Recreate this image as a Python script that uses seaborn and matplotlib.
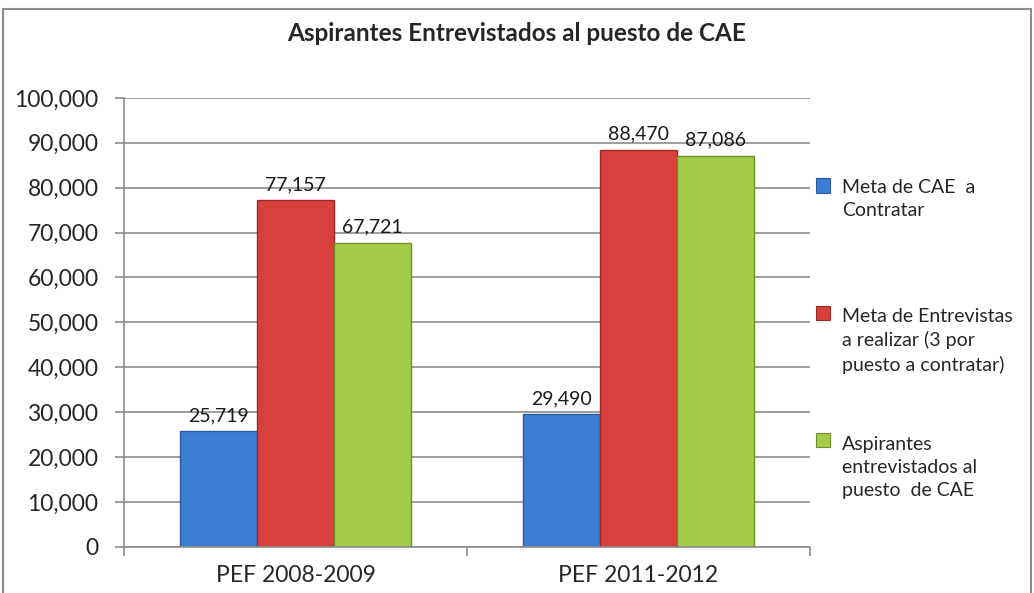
import pandas as pd
import matplotlib.pyplot as plt
import seaborn as sns
from matplotlib.patches import Rectangle
from matplotlib.legend_handler import HandlerPatch
from matplotlib.ticker import StrMethodFormatter

# Data
periodos = ["PEF 2008-2009", "PEF 2011-2012"]
series = ["Meta de CAE  a\nContratar",
          "Meta de Entrevistas\na realizar (3 por\npuesto a contratar)",
          "Aspirantes\nentrevistados al\npuesto  de CAE"]
meta_cae = [25719, 29490]
meta_entrevistas = [77157, 88470]
aspirantes = [67721, 87086]
colores = ["#3b7dd3", "#d8403e", "#a3cb45"]
bordes = ["#2a5a9e", "#9c2a28", "#6f8f2a"]

df = pd.DataFrame({
    "Periodo": periodos * 3,
    "Serie": [series[0]] * 2 + [series[1]] * 2 + [series[2]] * 2,
    "Valor": meta_cae + meta_entrevistas + aspirantes,
})

sns.set_style("white")
plt.rcParams['font.family'] = ['Lato', 'DejaVu Sans']

fig = plt.figure(figsize=(10.34, 5.93), dpi=100)
ax = fig.add_axes([0.12, 0.078, 0.663, 0.757])

sns.barplot(data=df, x="Periodo", y="Valor", hue="Serie", palette=colores,
            width=0.675, saturation=1, ax=ax, legend=False)

for i, cont in enumerate(ax.containers):
    for bar in cont:
        bar.set_edgecolor(bordes[i])
        bar.set_linewidth(1.0)
    ax.bar_label(cont, labels=[f"{v.get_height():,.0f}" for v in cont],
                 padding=5, fontsize=14, color="#1a1a1a")

ax.set_xlim(-0.5, 1.5)
ax.set_ylim(0, 100000)
ax.set_yticks(range(0, 100001, 10000))
ax.yaxis.set_major_formatter(StrMethodFormatter("{x:,.0f}"))
ax.grid(axis="y", color="#8c8c8c", linewidth=1.2)
ax.set_axisbelow(True)

ax.set_xticks([-0.5, 0.5, 1.5], minor=False)
ax.set_xticklabels(["", "", ""])
ax.set_xticks([0, 1], minor=True)
ax.set_xticklabels(periodos, minor=True, fontsize=16.5)
ax.tick_params(axis="x", which="minor", length=0, pad=13)
ax.tick_params(axis="x", which="major", length=6.5, color="#8c8c8c", width=1.2,
               direction="out", bottom=True)
ax.tick_params(axis="y", length=6.5, color="#8c8c8c", width=1.2, labelsize=16.5,
               direction="out", left=True, pad=12)

ax.set_xlabel("")
ax.set_ylabel("")
for s in ["top", "right"]:
    ax.spines[s].set_visible(False)
for s in ["left", "bottom"]:
    ax.spines[s].set_color("#8c8c8c")
    ax.spines[s].set_linewidth(1.2)


# legend: one box per entry, marker aligned with the first text line
LINESP = 1.42


def handler_for(n_lines):
    def make(legend, orig_handle, xdescent, ydescent, width, height, fontsize):
        shift = (n_lines - 1) / 2 * fontsize * LINESP
        return Rectangle((-xdescent, -ydescent + shift), width, height)
    return HandlerPatch(patch_func=make)


tops = [0.698, 0.481, 0.265]
for i, lab in enumerate(series):
    h = Rectangle((0, 0), 1, 1, facecolor=colores[i], edgecolor=bordes[i], linewidth=0.8)
    leg = fig.legend([h], [lab], loc="upper left", bbox_to_anchor=(0.789, tops[i]),
                     frameon=False, fontsize=14, handlelength=0.75, handleheight=0.75,
                     handletextpad=0.6, borderpad=0, borderaxespad=0,
                     handler_map={h: handler_for(lab.count("\n") + 1)})
    for t in leg.get_texts():
        t.set_linespacing(LINESP)

fig.text(0.5, 0.944, "Aspirantes Entrevistados al puesto de CAE",
         ha="center", va="center", fontsize=17.5, fontweight="bold")

fig.patches.append(Rectangle((0.003, -0.02), 0.994, 1.005, transform=fig.transFigure,
                             fill=False, edgecolor="#8c8c8c", linewidth=1.5))

plt.savefig("out.png", dpi=100)
